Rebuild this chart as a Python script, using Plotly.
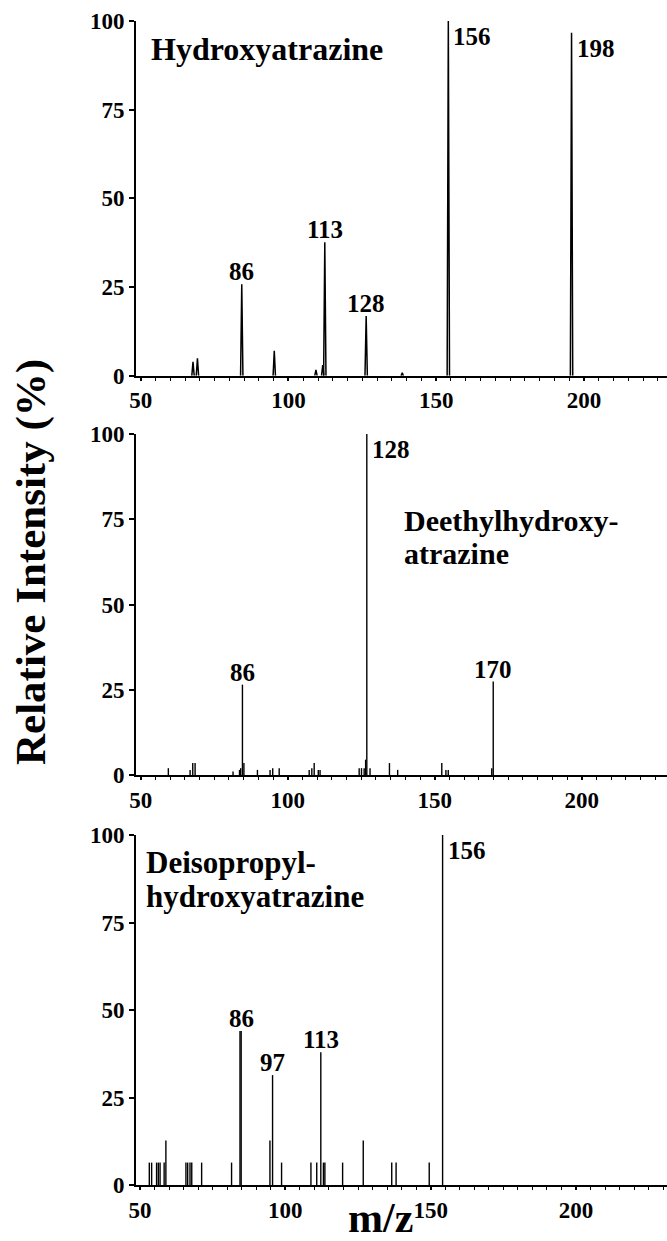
import plotly.graph_objects as go

# ---------------- data ----------------
# Panel 1: Hydroxyatrazine (profile peaks)
p1_mz = [67.7, 69.2, 84.2, 95.2, 109.3, 111.6, 112.3, 126.3, 138.5, 154.1, 195.8]
p1_int = [3.9, 4.9, 25.8, 7.0, 1.6, 3.0, 37.6, 16.8, 0.8, 100.0, 96.7]
p1_lab_text = ["86", "113", "128", "156", "198"]
p1_lab_mz = [84.2, 112.3, 126.3, 154.1, 195.8]
p1_lab_int = [25.8, 37.6, 16.8, 100.0, 96.7]
p1_lab_side = ["top", "top", "top", "right", "right"]

# Panel 2: Deethylhydroxyatrazine (stick spectrum)
p2_mz = [59.4, 66.8, 67.7, 68.5, 81.4, 83.6, 84.0, 84.6, 85.1, 89.7, 94.0, 94.9, 97.1,
         107.3, 108.2, 109.0, 110.4, 111.0, 124.3, 125.1, 126.0, 126.5, 126.9, 128.0,
         134.6, 137.4, 152.4, 153.8, 154.6, 169.4, 169.9]
p2_int = [2.0, 1.5, 3.5, 3.5, 1.0, 1.5, 2.0, 26.5, 3.5, 1.5, 1.5, 2.0, 2.0,
          1.5, 2.0, 3.5, 1.5, 1.5, 2.0, 2.0, 2.0, 4.5, 100.0, 2.0,
          3.5, 1.5, 3.5, 1.5, 1.5, 2.0, 27.4]
p2_lab_text = ["86", "128", "170"]
p2_lab_mz = [84.6, 126.9, 169.9]
p2_lab_int = [26.5, 100.0, 27.4]
p2_lab_side = ["top", "right", "top"]

# Panel 3: Deisopropylhydroxyatrazine (stick spectrum)
p3_mz = [53.2, 54.0, 55.7, 56.3, 56.9, 58.3, 58.9, 65.8, 66.4, 67.2, 67.8, 71.2, 81.5,
         84.4, 84.8, 94.7, 95.6, 98.7, 108.8, 110.8, 112.2, 113.1, 113.6, 119.7, 126.8,
         136.6, 138.1, 149.5, 154.1]
p3_int = [6.4, 6.4, 6.4, 6.4, 6.4, 6.4, 12.7, 6.4, 6.4, 6.4, 6.4, 6.4, 6.4,
          44.0, 44.0, 12.7, 31.4, 6.4, 6.4, 6.4, 37.9, 6.4, 6.4, 6.4, 12.7,
          6.4, 6.4, 6.4, 100.0]
p3_lab_text = ["86", "97", "113", "156"]
p3_lab_mz = [84.8, 95.6, 112.2, 154.1]
p3_lab_int = [44.0, 31.4, 37.9, 100.0]
p3_lab_side = ["top", "top", "top", "right"]

names = [["Hydroxyatrazine"],
         ["Deethylhydroxy-", "atrazine"],
         ["Deisopropyl-", "hydroxyatrazine"]]

x_ticks = [50, 100, 150, 200]
y_ticks = [0, 25, 50, 75, 100]

# ---------------- layout geometry ----------------
W, H = 667, 1241
L, R, T, B = 136, 0, 21, 56
PW, PH = W - L - R, H - T - B


def px(x):
    return (x - L) / PW


def py(y):
    return (H - B - y) / PH


FONT = "Liberation Serif, Times New Roman, serif"

y_domains = [[py(375.7), 1.0], [py(775), py(434)], [0.0, py(835)]]
x_ranges = [[48.41, 228.1], [48.40, 229.0], [48.62, 231.3]]


def sticks(mz, inten):
    xs, ys = [], []
    for m, h in zip(mz, inten):
        xs += [m, m, None]
        ys += [0, h, None]
    return xs, ys


def profile(mz, inten, hw):
    xs, ys = [], []
    for m, h in zip(mz, inten):
        xs += [m - hw, m, m + hw, None]
        ys += [0, h, 0, None]
    return xs, ys


fig = go.Figure()

x1, y1 = profile(p1_mz, p1_int, 0.4)
fig.add_trace(go.Scatter(x=x1, y=y1, mode="lines", line=dict(color="black", width=1.5),
                         xaxis="x", yaxis="y", showlegend=False, hoverinfo="skip"))
x2, y2 = sticks(p2_mz, p2_int)
fig.add_trace(go.Scatter(x=x2, y=y2, mode="lines", line=dict(color="black", width=1.4),
                         xaxis="x2", yaxis="y2", showlegend=False, hoverinfo="skip"))
x3, y3 = sticks(p3_mz, p3_int)
fig.add_trace(go.Scatter(x=x3, y=y3, mode="lines", line=dict(color="black", width=1.4),
                         xaxis="x3", yaxis="y3", showlegend=False, hoverinfo="skip"))

annotations = []
label_sets = [(p1_lab_text, p1_lab_mz, p1_lab_int, p1_lab_side),
              (p2_lab_text, p2_lab_mz, p2_lab_int, p2_lab_side),
              (p3_lab_text, p3_lab_mz, p3_lab_int, p3_lab_side)]
for i, (txt, mz, inten, side) in enumerate(label_sets):
    xr = "x" if i == 0 else f"x{i+1}"
    yr = "y" if i == 0 else f"y{i+1}"
    for t, m, h, s in zip(txt, mz, inten, side):
        if s == "top":
            annotations.append(dict(x=m, y=h, xref=xr, yref=yr, text=t, showarrow=False,
                                    xanchor="center", yanchor="bottom", yshift=-3,
                                    font=dict(family=FONT, size=25, color="black", weight="bold")))
        else:
            annotations.append(dict(x=m, y=h - 4.5, xref=xr, yref=yr, text=t, showarrow=False,
                                    xanchor="left", yanchor="middle", xshift=3,
                                    font=dict(family=FONT, size=25, color="black", weight="bold")))

# compound names (pixel anchors: left edge, baseline, font size)
name_pos = [[(151, 59.3, 32)],
            [(404, 530.7, 30), (404, 563.9, 30)],
            [(145.7, 873.3, 31), (145.7, 907.3, 31)]]
for lines, poss in zip(names, name_pos):
    for t, (xp, yb, fs) in zip(lines, poss):
        annotations.append(dict(x=px(xp), y=py(yb - 0.3375 * fs), xref="paper", yref="paper",
                                text=t, showarrow=False, xanchor="left", yanchor="middle",
                                borderpad=0, borderwidth=0,
                                font=dict(family=FONT, size=fs, color="black", weight="bold")))

# axis titles
annotations.append(dict(x=px(31), y=py(562), xref="paper", yref="paper",
                        text="Relative Intensity (%)", textangle=-90, showarrow=False,
                        xanchor="center", yanchor="middle",
                        font=dict(family=FONT, size=43, color="black", weight="bold")))
annotations.append(dict(x=px(380), y=py(1232 - 0.3375 * 42), xref="paper", yref="paper",
                        text="m/z", showarrow=False, xanchor="center", yanchor="middle",
                        borderpad=0, borderwidth=0,
                        font=dict(family=FONT, size=42, color="black", weight="bold")))

layout = dict(width=W, height=H, margin=dict(l=L, r=R, t=T, b=B),
              paper_bgcolor="white", plot_bgcolor="white",
              annotations=annotations, showlegend=False)

for i in range(3):
    xk = "xaxis" if i == 0 else f"xaxis{i+1}"
    yk = "yaxis" if i == 0 else f"yaxis{i+1}"
    xa = "x" if i == 0 else f"x{i+1}"
    ya = "y" if i == 0 else f"y{i+1}"
    layout[xk] = dict(domain=[0, 1], range=x_ranges[i], anchor=ya,
                      showline=True, linecolor="black", linewidth=2,
                      ticks="outside", ticklen=3, tickwidth=1.5, tickcolor="black",
                      tickvals=x_ticks, ticktext=[str(v) for v in x_ticks],
                      tickfont=dict(family=FONT, size=23, color="black", weight="bold"),
                      minor=dict(dtick=5, tick0=50, ticks="outside", ticklen=3,
                                 tickwidth=1, tickcolor="black"),
                      showgrid=False, zeroline=False, ticklabelstandoff=0)
    layout[yk] = dict(domain=y_domains[i], range=[0, 100], anchor=xa,
                      showline=True, linecolor="black", linewidth=2,
                      ticks="outside", ticklen=5, tickwidth=2, tickcolor="black",
                      tickvals=y_ticks, ticktext=[str(v) for v in y_ticks],
                      tickfont=dict(family=FONT, size=23, color="black", weight="bold"),
                      showgrid=False, zeroline=False, ticklabelstandoff=0)

fig.update_layout(**layout)
fig.write_html("out.html", config={"displayModeBar": False},
               post_script="document.body.style.margin='0';document.body.style.padding='0';")
